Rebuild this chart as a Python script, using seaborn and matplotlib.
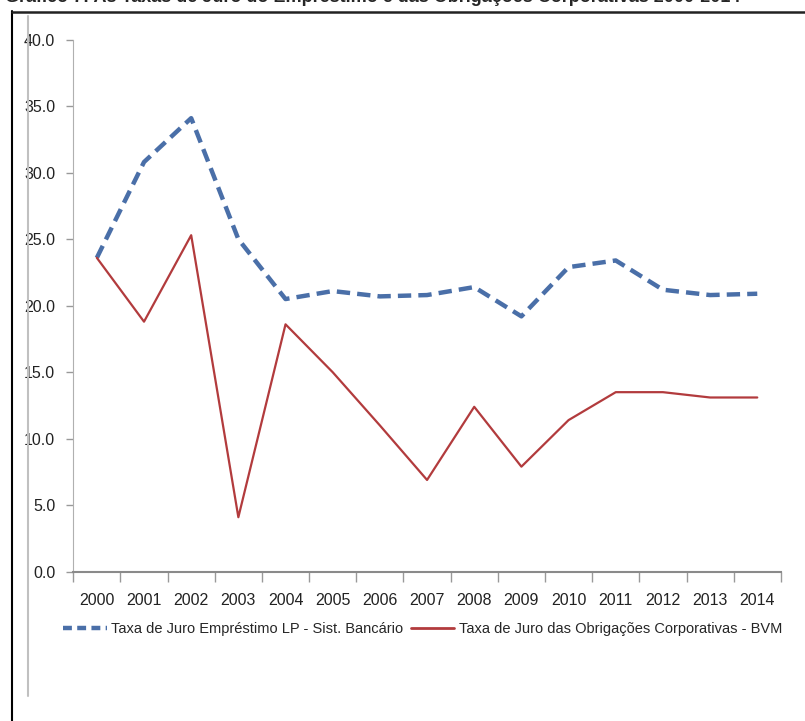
import pandas as pd
import numpy as np
import seaborn as sns
import matplotlib.pyplot as plt
from matplotlib.lines import Line2D

# data
years = [2000, 2001, 2002, 2003, 2004, 2005, 2006, 2007, 2008, 2009, 2010, 2011, 2012, 2013, 2014]
emprestimo = [23.6, 30.8, 34.1, 25.0, 20.5, 21.1, 20.7, 20.8, 21.4, 19.2, 22.9, 23.4, 21.2, 20.8, 20.9]
obrigacoes = [23.6, 18.8, 25.3, 4.1, 18.6, 15.0, 11.0, 6.9, 12.4, 7.9, 11.4, 13.5, 13.5, 13.1, 13.1]
serie_a = 'Taxa de Juro Empréstimo LP - Sist. Bancário'
serie_b = 'Taxa de Juro das Obrigações Corporativas - BVM'
titulo = 'Gráfico 7: As Taxas de Juro do Empréstimo e das Obrigações Corporativas 2000-2014'

df = pd.DataFrame({'Ano': years * 2,
                   'Taxa': emprestimo + obrigacoes,
                   'Serie': [serie_a] * len(years) + [serie_b] * len(years)})

sns.set_style('white')
plt.rcParams['font.family'] = ['Liberation Sans', 'DejaVu Sans']

fig = plt.figure(figsize=(8.05, 7.21), dpi=100)
ax = fig.add_axes([0.091, 0.207, 0.879, 0.738])

cores = {serie_a: '#4a6fa8', serie_b: '#b23b3d'}
sns.lineplot(data=df, x='Ano', y='Taxa', hue='Serie', style='Serie',
             palette=cores, dashes={serie_a: (3, 1.6), serie_b: ''},
             ax=ax, legend=False)
ax.lines[0].set_linewidth(3.2)
ax.lines[1].set_linewidth(1.6)

ax.set_xlim(years[0] - 0.5, years[-1] + 0.5)
ax.set_ylim(0, 40)
ax.set_yticks(np.arange(0, 41, 5))
ax.set_yticklabels([f'{v:.1f}' for v in np.arange(0, 41, 5)], fontsize=11.5, color='#222222')
ax.set_xticks(years)
ax.set_xticklabels([str(y) for y in years], fontsize=11.5, color='#222222')
ax.set_xticks(np.arange(years[0] - 0.5, years[-1] + 0.6, 1), minor=True)
ax.tick_params(axis='x', which='major', length=0, pad=15)
ax.tick_params(axis='x', which='minor', length=7, color='#999999', width=1, direction='out', bottom=True)
ax.tick_params(axis='y', length=5, color='#999999', width=1, direction='out', left=True, pad=8)
ax.set_xlabel('')
ax.set_ylabel('')
for s in ['top', 'right']:
    ax.spines[s].set_visible(False)
ax.spines['left'].set_color('#b0b0b0')
ax.spines['bottom'].set_color('#8a8a8a')
ax.spines['bottom'].set_linewidth(1.5)

handles = [Line2D([], [], color=cores[serie_a], lw=3.2, dashes=(2, 1.2)),
           Line2D([], [], color=cores[serie_b], lw=2)]
fig.legend(handles, [serie_a, serie_b], loc='center', bbox_to_anchor=(0.525, 0.127),
           ncol=2, frameon=False, fontsize=10.5, handlelength=3.0, columnspacing=0.5,
           handletextpad=0.3)

# page frame and the clipped caption
fig.add_artist(Line2D([0.015, 0.015], [0.0, 0.985], color='black', lw=1.5, transform=fig.transFigure))
fig.add_artist(Line2D([0.015, 1.0], [0.983, 0.983], color='#222222', lw=1.8, transform=fig.transFigure))
fig.add_artist(Line2D([0.035, 0.035], [0.035, 0.978], color='#c0c0c0', lw=1.5, transform=fig.transFigure))
fig.text(0.006, 1.003, titulo, fontsize=13, fontweight='bold', va='center', ha='left')

plt.savefig('out.png', dpi=100)
